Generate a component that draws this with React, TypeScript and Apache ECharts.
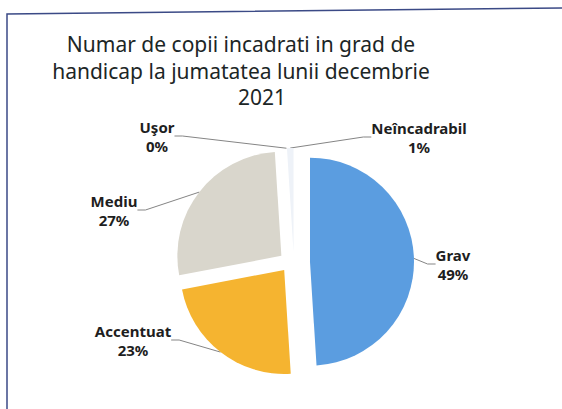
import React, { useEffect, useRef } from "react";
import * as echarts from "echarts";

const titleLines = [
  "Numar de copii incadrati in grad de",
  "handicap la jumatatea lunii decembrie",
  "2021",
];
const categories = ["Grav", "Accentuat", "Mediu", "Uşor", "Neîncadrabil"];
const values = [49, 23, 27, 0, 1];
const colors = ["#5b9de0", "#f5b430", "#d9d6cc", "#f2f2f2", "#eef2f8"];

// label block centres (x, y) for each category
const labelPos: [number, number][] = [
  [453, 264],
  [133, 340],
  [114, 210],
  [157, 136],
  [419, 137],
];

export default function App() {
  const ref = useRef<HTMLDivElement>(null);
  useEffect(() => {
    if (!ref.current) return;
    const chart = echarts.init(ref.current, null, { renderer: "svg" });
    const font = "'Noto Sans', 'Open Sans', sans-serif";
    const cx = 294;
    const cy = 262;
    const explodeX = 16;
    const explodeY = 10;
    const total = values.reduce((a, b) => a + b, 0);
    let cum = 0;
    const series = categories.map((name, i) => {
      const mid = ((cum + values[i] / 2) / total) * Math.PI * 2;
      cum += values[i];
      const center = [cx + explodeX * Math.sin(mid), cy - explodeY * Math.cos(mid)];
      return {
        type: "pie",
        name,
        center,
        radius: [0, 104],
        startAngle: 90,
        clockwise: true,
        silent: true,
        avoidLabelOverlap: false,
        emphasis: { disabled: true },
        z: 2,
        labelLayout: (params: any) => {
          const p = labelPos[params.dataIndex];
          return { x: p[0], y: p[1], align: "center", verticalAlign: "middle" };
        },
        data: categories.map((c, j) => ({
          name: c,
          value: values[j],
          itemStyle: { color: j === i ? colors[j] : "rgba(0,0,0,0)", borderWidth: 0 },
          label: {
            show: j === i,
            formatter: "{b}\n{d}%",
            color: "#1e1e1e",
            fontFamily: font,
            fontWeight: "bold",
            fontSize: 15,
            lineHeight: 19,
            align: "center",
          },
          labelLine: {
            show: j === i,
            length: 8,
            length2: 8,
            lineStyle: { color: "#858585", width: 1 },
          },
        })),
      };
    });
    chart.setOption({
      animation: false,
      backgroundColor: "#ffffff",
      graphic: [
        {
          type: "polyline",
          shape: { points: [[7, 409], [7, 14], [562, 8]] },
          style: { stroke: "#3b4a86", lineWidth: 1.5, fill: "none" },
          silent: true,
        },
        ...titleLines.map((t, i) => ({
          type: "text",
          x: i === 2 ? 262 : 241,
          y: [44, 71, 97][i],
          style: {
            text: t,
            fill: "#1c2626",
            font: `21px ${font}`,
            textAlign: "center",
            textVerticalAlign: "middle",
          },
          silent: true,
        })),
      ],
      series,
    });
    return () => chart.dispose();
  }, []);
  return (
    <div
      ref={ref}
      style={{ position: "absolute", left: 0, top: 0, width: 562, height: 409 }}
    />
  );
}
